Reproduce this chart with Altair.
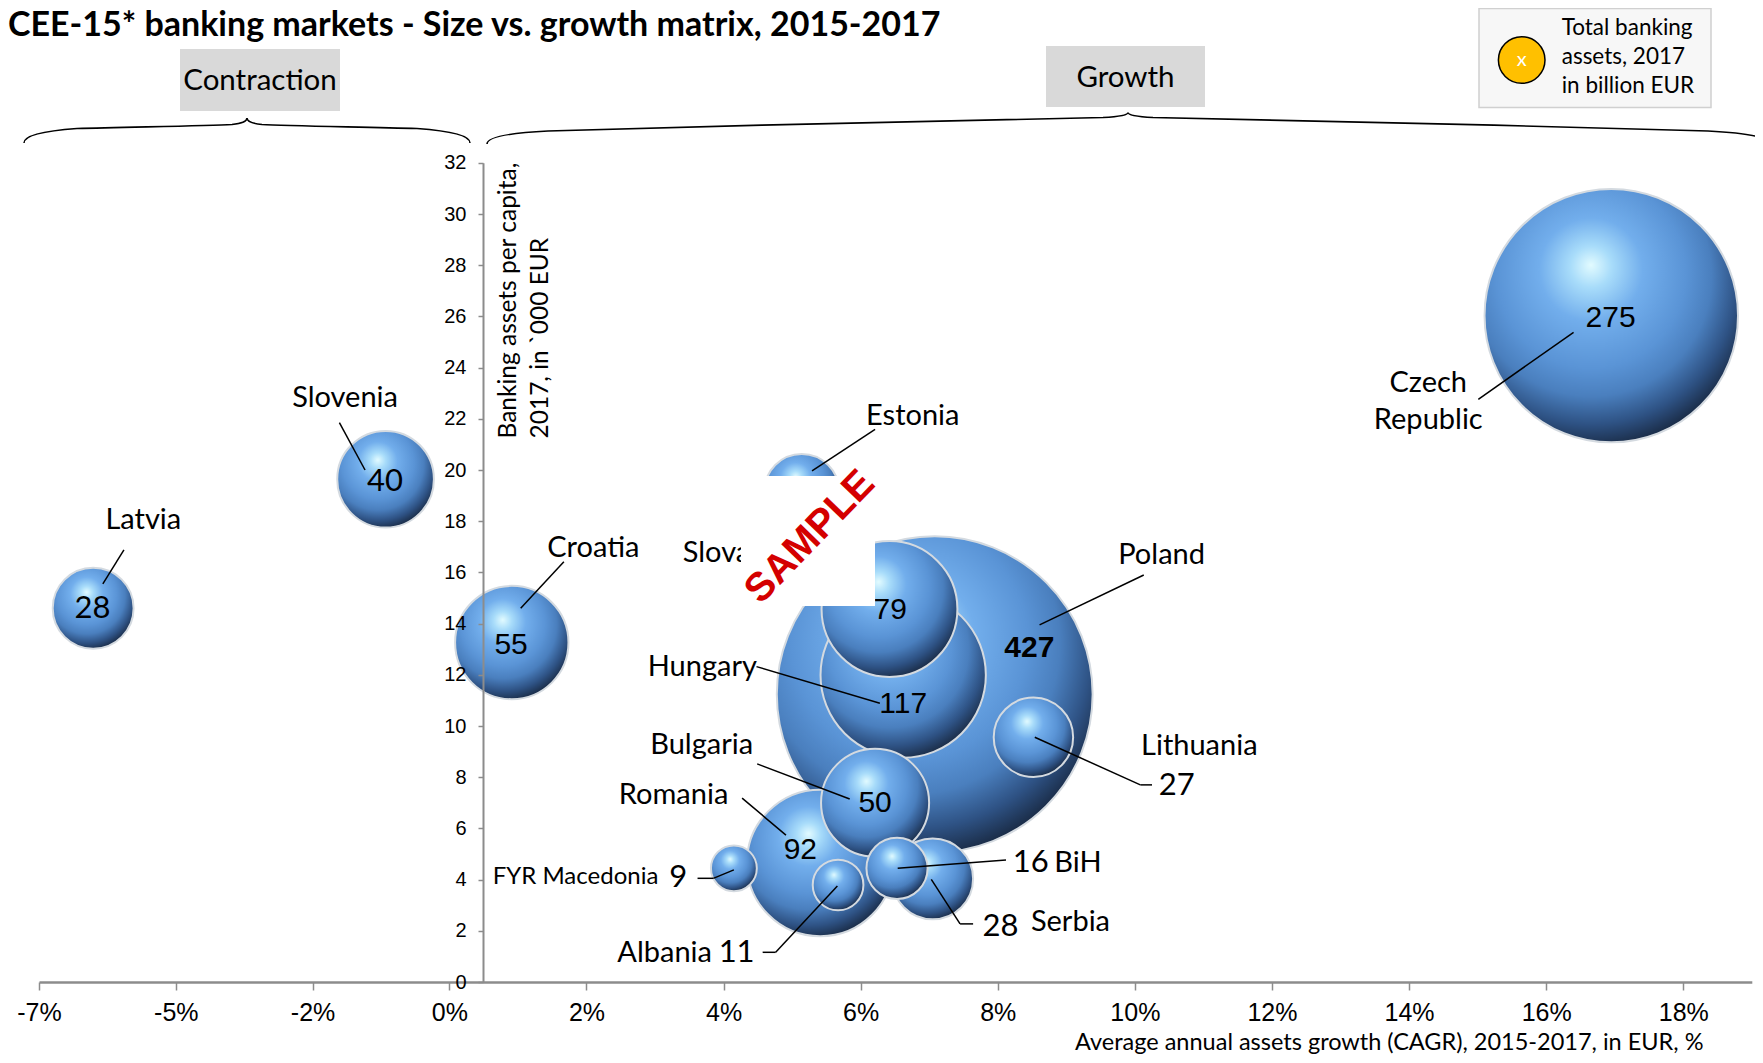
import re
import altair as alt
import pandas as pd

# ---------------- data ----------------
countries = ["Latvia", "Slovenia", "Croatia", "Estonia", "Slovakia", "Hungary", "Poland",
             "Lithuania", "Bulgaria", "Romania", "FYR Macedonia", "Albania", "BiH", "Serbia",
             "Czech Republic"]
cagr = [-6.25, -1.12, 0.91, 5.14, 6.42, 6.62, 7.08, 8.52, 6.21, 5.41, 4.15, 5.67, 6.53, 7.05, 16.95]
per_capita = [14.6, 19.64, 13.26, 19.16, 14.57, 11.99, 11.24, 9.56, 7.0, 4.65, 4.44, 3.79, 4.44, 4.03, 26.03]
assets = [28, 40, 55, 24, 79, 117, 427, 27, 50, 92, 9, 11, 16, 28, 275]

# value label anchor (data units), same order as countries
value_label_x = [-6.26, -1.13, 0.90, 5.14, 6.43, 6.62, 8.46, 10.61, 6.21, 5.12, 3.34, 4.19, 8.48, 8.04, 16.94]
value_label_y = [14.56, 19.54, 13.16, 19.16, 14.53, 10.86, 13.04, 7.67, 6.98, 5.16, 4.05, 1.13, 4.66, 2.16, 25.93]
arial_value_countries = ["Croatia", "Estonia", "Slovakia", "Hungary", "Bulgaria", "Romania", "Czech Republic"]
bold_value_countries = ["Poland"]

# country name labels (data units)
name_labels = ["Latvia", "Slovenia", "Croatia", "Slovakia", "Hungary", "Estonia", "Poland", "Lithuania",
               "Bulgaria", "Romania", "Czech", "Republic", "Albania", "BiH", "Serbia"]
name_x = [-5.37, -1.83, 2.10, 4.16, 3.69, 6.76, 10.39, 10.94, 3.68, 3.27, 14.28, 14.28, 3.14, 9.17, 9.06]
name_y = [18.05, 22.8, 16.94, 16.76, 12.32, 22.11, 16.68, 9.22, 9.24, 7.30, 23.39, 21.95, 1.13, 4.66, 2.36]
small_name_labels = ["FYR Macedonia"]
small_name_x = [1.84]
small_name_y = [4.09]

# leader line segments (data units)
seg_x = [-5.71, -1.93, 1.67, 16.40, 6.21, 10.13, 4.48, 8.54, 10.08, 4.49, 4.27, 3.62, 3.85, 4.57, 4.76, 6.54, 7.03, 7.45]
seg_y = [16.88, 21.85, 16.42, 25.38, 21.59, 15.90, 12.32, 9.56, 7.70, 8.52, 7.18, 4.05, 4.05, 1.16, 1.16, 4.44, 4.01, 2.27]
seg_x2 = [-6.08, -1.48, 1.04, 15.01, 5.29, 8.61, 6.28, 10.08, 10.25, 5.84, 4.91, 3.85, 4.15, 4.76, 5.66, 8.12, 7.45, 7.64]
seg_y2 = [15.55, 20.0, 14.60, 22.76, 19.97, 13.95, 10.89, 7.70, 7.70, 7.15, 5.74, 4.05, 4.38, 1.16, 3.75, 4.77, 2.27, 2.27]

x_ticks = [-7.2, -4.8, -2.4, 0, 2, 4, 6, 8, 10, 12, 14, 16, 18]
y_ticks = [0, 2, 4, 6, 8, 10, 12, 14, 16, 18, 20, 22, 24, 26, 28, 30, 32]

title_text = "CEE-15* banking markets - Size vs. growth matrix, 2015-2017"
y_title_lines = ["Banking assets per capita,", "2017, in `000 EUR"]
x_title_text = "Average annual assets growth (CAGR), 2015-2017, in EUR, %"
legend_lines = ["Total banking", "assets, 2017", "in billion EUR"]

# ---------------- layout ----------------
W, H = 1747, 1047
X_AXIS_Y = 974
xs = alt.Scale(domain=[-7.2, 0, 19], range=[31, 441.4, 1743.8], nice=False, zero=False)
ys = alt.Scale(domain=[0, 32], range=[X_AXIS_Y, 154.8], nice=False, zero=False)

NAME_FONT = "Lato"
NUM_FONT = "Liberation Sans"


def X(field="cagr"):
    return alt.X(f"{field}:Q", scale=xs, title=None, axis=alt.Axis(
        values=x_ticks, labelExpr="(datum.value < 0 ? '-' : '') + abs(round(datum.value)) + '%'",
        offset=-(H - X_AXIS_Y), grid=False, domainColor="#8c8c8c", domainWidth=2.5,
        tickColor="#8c8c8c", tickSize=8, tickWidth=1.5, labelFont=NUM_FONT, labelFontSize=25,
        labelColor="black", labelPadding=10, labelOverlap=False, labelFlush=False, zindex=1))


def Y(field="per_capita"):
    return alt.Y(f"{field}:Q", scale=ys, title=None, axis=alt.Axis(
        values=y_ticks, offset=-475, grid=False, domainColor="#8c8c8c", domainWidth=2,
        tickColor="#8c8c8c", tickSize=5, tickWidth=1.5, labelFont=NUM_FONT, labelFontSize=20,
        labelColor="black", labelPadding=12, labelOverlap=False, labelFlush=False, zindex=1))


one = pd.DataFrame({"k": [0]})

bubble_df = pd.DataFrame({"country": countries, "cagr": cagr, "per_capita": per_capita, "assets": assets})

grad = {
    "gradient": "radial", "x1": 0.42, "y1": 0.30, "r1": 0, "x2": 0.42, "y2": 0.36, "r2": 0.68,
    "stops": [
        {"offset": 0.0, "color": "#e2fbff"},
        {"offset": 0.12, "color": "#a8dcfa"},
        {"offset": 0.30, "color": "#72aeec"},
        {"offset": 0.55, "color": "#5a94d6"},
        {"offset": 0.70, "color": "#4a7fbe"},
        {"offset": 0.85, "color": "#2e5284"},
        {"offset": 1.0, "color": "#16243a"},
    ],
}

# symbol size is the squared diameter in Vega
bubbles = alt.Chart(bubble_df).mark_circle(
    fill=grad, stroke="#d4dae0", strokeWidth=2, opacity=1
).encode(
    x=X(), y=Y(),
    size=alt.Size("assets:Q", scale=alt.Scale(domain=[0, 427], range=[0, 427 * 233.6]), legend=None),
    order=alt.Order("assets:Q", sort="descending"),
)

seg_df = pd.DataFrame({"cagr": seg_x, "per_capita": seg_y, "cagr2": seg_x2, "per_capita2": seg_y2})
leaders = alt.Chart(seg_df).mark_rule(color="black", strokeWidth=1.5).encode(
    x=X(), y=Y(), x2="cagr2:Q", y2="per_capita2:Q")

val_df = pd.DataFrame({"country": countries, "cagr": value_label_x, "per_capita": value_label_y,
                       "label": [str(a) for a in assets]})
arial_df = val_df[val_df.country.isin(arial_value_countries)]
bold_df = val_df[val_df.country.isin(bold_value_countries)]
cal_df = val_df[~val_df.country.isin(arial_value_countries + bold_value_countries)]


def text_layer(df, font, size, weight="normal"):
    return alt.Chart(df).mark_text(font=font, fontSize=size, fontWeight=weight, color="black",
                                   align="center", baseline="middle").encode(
        x=X(), y=Y(), text="label:N")


names_df = pd.DataFrame({"label": name_labels, "cagr": name_x, "per_capita": name_y})
small_df = pd.DataFrame({"label": small_name_labels, "cagr": small_name_x, "per_capita": small_name_y})

layers = [
    bubbles, leaders,
    text_layer(arial_df, NUM_FONT, 30),
    text_layer(bold_df, NUM_FONT, 30, "bold"),
    text_layer(cal_df, NAME_FONT, 31),
    text_layer(names_df, NAME_FONT, 29),
    text_layer(small_df, NAME_FONT, 24),
]

# ---------------- decorations ----------------
def unit_path(px_path, half):
    return re.sub(r"-?\d+(?:\.\d+)?", lambda m: f"{float(m.group()) / half:.5f}", px_path)


brace_c = ("M -223 0 C -223 -7 -205 -12 -170 -14.5 C -120 -16 -40 -17 -15 -18.5 C -5 -19.5 0 -22 0 -25 "
           "C 0 -22 5 -19.5 15 -18.5 C 40 -17 120 -16 170 -14.5 C 205 -12 223 -7 223 0")
brace_g = ("M -641 0 C -641 -7 -620 -11 -580 -13 C -400 -19 -120 -24 -25 -26.5 C -8 -27.5 0 -29 0 -31.6 "
           "C 0 -29 8 -27.5 25 -26.5 C 120 -24 400 -19 580 -13 C 620 -11 641 -7 641 0")

deco = []
for path, half, cx, cy in [(brace_c, 223, 239, 135), (brace_g, 641, 1120, 136)]:
    deco.append(alt.Chart(one).mark_point(shape=unit_path(path, half), filled=False, color="black",
                                          strokeWidth=1.6, opacity=1, size=(2 * half) ** 2).encode(
        x=alt.value(cx), y=alt.value(cy)))

# gray header boxes
for label, x0, x1, y0, y1, ty in [("Contraction", 172, 332, 41, 103, 82), ("Growth", 1038, 1197, 38, 99, 79)]:
    deco.append(alt.Chart(one).mark_rect(fill="#d9d9d9").encode(
        x=alt.value(x0), x2=alt.value(x1), y=alt.value(y0), y2=alt.value(y1)))
    deco.append(alt.Chart(one).mark_text(text=label, font=NAME_FONT, fontSize=29.5, color="black",
                                         align="center", baseline="alphabetic").encode(
        x=alt.value((x0 + x1) / 2), y=alt.value(ty)))

# legend box
deco.append(alt.Chart(one).mark_rect(fill="#f7f7f7", stroke="#d0d0d0", strokeWidth=1.5).encode(
    x=alt.value(1471), x2=alt.value(1703), y=alt.value(0.5), y2=alt.value(99.5)))
deco.append(alt.Chart(one).mark_point(shape="circle", filled=True, fill="#FFC000", stroke="black",
                                      strokeWidth=1.5, opacity=1, size=46.6 ** 2).encode(
    x=alt.value(1513.7), y=alt.value(52)))
deco.append(alt.Chart(one).mark_text(text="x", font=NAME_FONT, fontSize=20, color="white",
                                     align="center", baseline="middle").encode(
    x=alt.value(1513.7), y=alt.value(52)))
deco.append(alt.Chart(one).mark_text(text=legend_lines, font=NAME_FONT, fontSize=22.5, lineHeight=29,
                                     color="black", align="left", baseline="alphabetic").encode(
    x=alt.value(1553.7), y=alt.value(27)))

# title
deco.append(alt.Chart(one).mark_text(text=title_text, font=NAME_FONT, fontSize=34, fontWeight="bold",
                                     color="black", align="left", baseline="alphabetic").encode(
    x=alt.value(0), y=alt.value(28)))

# axis titles
for i, line in enumerate(y_title_lines):
    deco.append(alt.Chart(one).mark_text(text=line, font=NAME_FONT, fontSize=24.5, angle=270, color="black",
                                         align="left", baseline="middle").encode(
        x=alt.value(501 + 32 * i), y=alt.value(430.5)))
deco.append(alt.Chart(one).mark_text(text=x_title_text, font=NAME_FONT, fontSize=23.5, color="black",
                                     align="right", baseline="alphabetic").encode(
    x=alt.value(1695.5), y=alt.value(1042)))

# watermark
deco.append(alt.Chart(one).mark_rect(fill="white").encode(
    x=alt.value(733), x2=alt.value(867), y=alt.value(468), y2=alt.value(598)))
deco.append(alt.Chart(one).mark_text(text="SAMPLE", font=NUM_FONT, fontSize=40, fontWeight="bold",
                                     color="#d40000", angle=314, align="center", baseline="middle").encode(
    x=alt.value(802), y=alt.value(529)))

chart = alt.layer(*layers, *deco).properties(
    width=W, height=H, autosize=alt.AutoSizeParams(type="none"), padding=0
).configure_view(strokeWidth=0)

chart.save("out.html", embed_options={"renderer": "svg", "actions": False})
